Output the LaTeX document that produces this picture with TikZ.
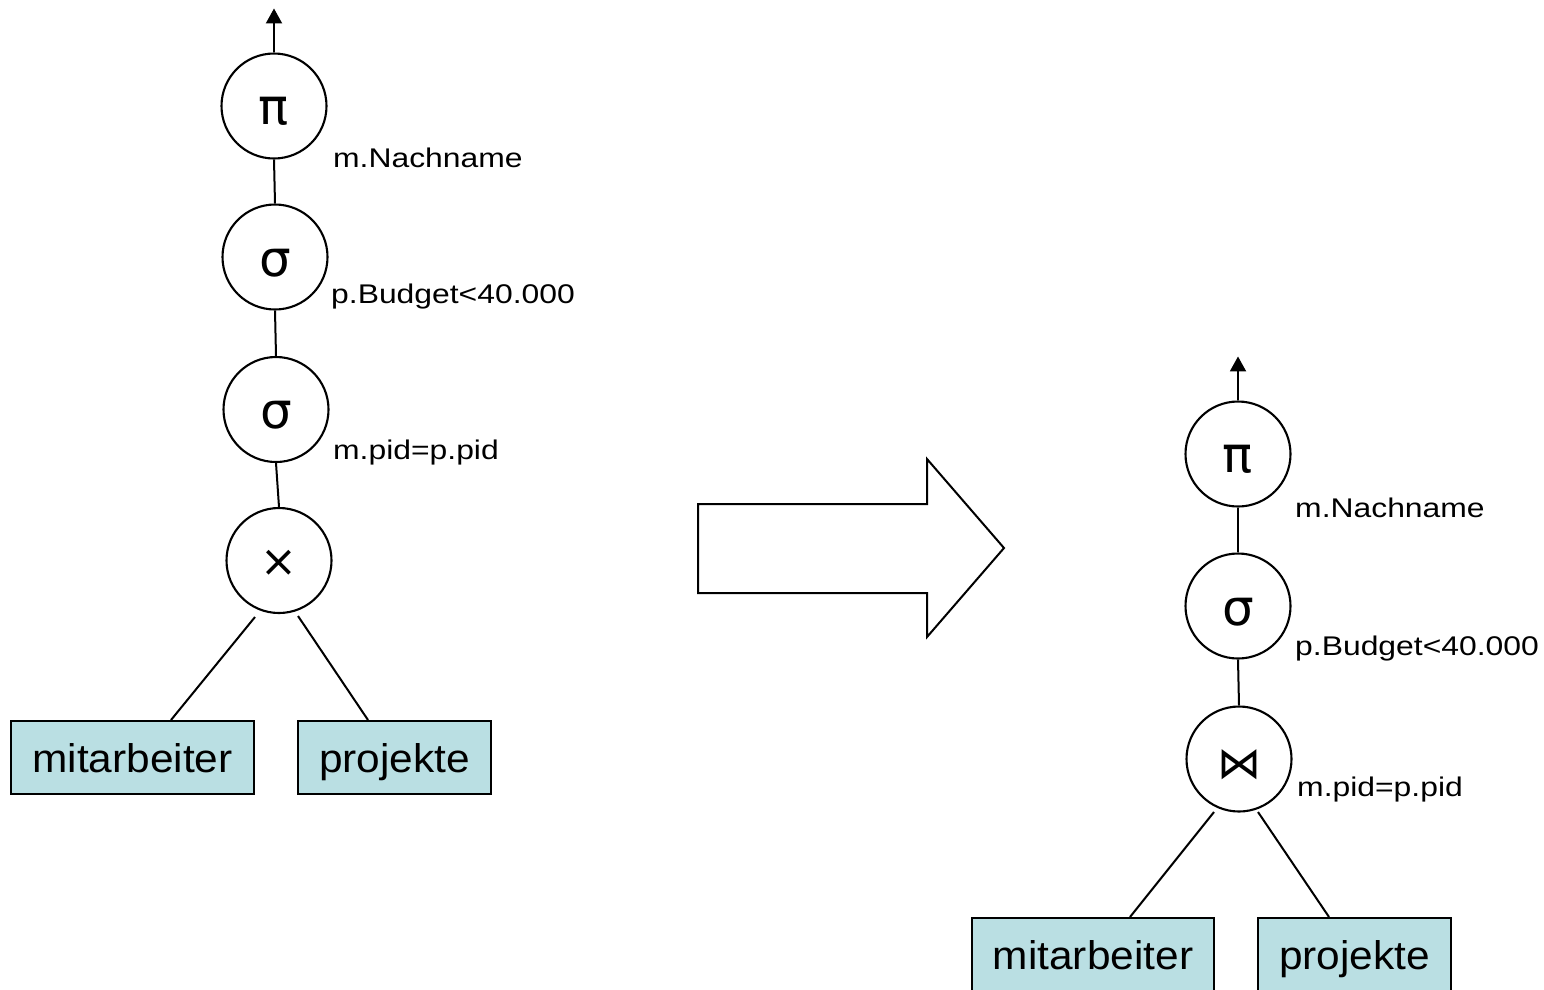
\documentclass[tikz,border=0pt]{standalone}
\usepackage{fontspec}
\setmainfont{Liberation Sans}
\newfontfamily\lblfont[FakeStretch=1.18]{Liberation Sans}
\newfontfamily\opfont{DejaVu Sans}
\newfontfamily\boxfont[FakeStretch=1.06]{Liberation Sans}
\usetikzlibrary{arrows.meta,calc}
\definecolor{relfill}{RGB}{186,223,227}
\begin{document}
\begin{tikzpicture}[x=1pt,y=-1pt,
  opnode/.style={circle,draw,line width=2.1pt,minimum size=105pt,inner sep=0pt},
  opsym/.style={inner sep=0pt,font=\opfont\fontsize{50}{60}\selectfont},
  cond/.style={anchor=base west,inner sep=0pt,font=\lblfont\fontsize{27}{32}\selectfont},
  relbox/.style={rectangle,draw,line width=2pt,fill=relfill,minimum height=73pt,
    inner sep=0pt,text height=29pt,text depth=0pt,font=\boxfont\fontsize{40}{48}\selectfont},
  edge/.style={line width=2pt},
  outarrow/.style={line width=2pt,-{Triangle[width=16pt,length=15pt]}}]
\useasboundingbox (0,0) rectangle (1544,989);

% ---- initial operator tree ----
\node[opnode] (pL) at (274,106) {};
\node[opsym] (pLs) at ([yshift=-5.5pt]pL.center) {π};
\node[opnode] (s1L) at (275,257) {};
\node[opsym] (s1Ls) at ([yshift=-6pt]s1L.center) {σ};
\node[opnode] (s2L) at (276,409.5) {};
\node[opsym] (s2Ls) at ([yshift=-5.5pt]s2L.center) {σ};
\node[opnode] (xL) at (279,560.5) {};
\node[opsym,font=\opfont\fontsize{44}{50}\selectfont] (xLs) at ([yshift=-2.5pt]xL.center) {×};

\node[cond] (cpL) at (333,167) {m.Nachname};
\node[cond] (cs1L) at (331,303) {p.Budget<40.000};
\node[cond] (cs2L) at (333,459) {m.pid=p.pid};

\node[relbox,minimum width=243pt] (mL) at (132.5,757.5) {mitarbeiter};
\node[relbox,minimum width=193pt] (jL) at (394.5,757.5) {projekte};

\coordinate (outL) at ([yshift=44pt]pL.north);
\draw[outarrow] (pL.north) -- (outL);
\draw[edge] (pL.south) -- (s1L.north);
\draw[edge] (s1L.south) -- (s2L.north);
\draw[edge] (s2L.south) -- (xL.north);
\draw[edge] ($(xL.center)+(-24,56.5)$) -- ([xshift=38.5pt]mL.north);
\draw[edge] ($(xL.center)+(19,55.5)$) -- ([xshift=-26.5pt]jL.north);

% ---- transformation arrow ----
\draw[line width=2pt,line join=miter]
  (698,504) -- (927,504) -- (927,459) -- (1004,548) -- (927,637) -- (927,593) -- (698,593) -- cycle;

% ---- optimised operator tree ----
\node[opnode] (pR) at (1238,454) {};
\node[opsym] (pRs) at ([yshift=-5.5pt]pR.center) {π};
\node[opnode] (sR) at (1238,606) {};
\node[opsym] (sRs) at ([yshift=-6pt]sR.center) {σ};
\node[opnode] (jnR) at (1239,759) {};
\node[opsym,font=\opfont\fontsize{44}{50}\selectfont] (jnRs) at ([yshift=-5.5pt]jnR.center) {⋈};

\node[cond] (cpR) at (1295,517) {m.Nachname};
\node[cond] (csR) at (1295,655) {p.Budget<40.000};
\node[cond] (cjR) at (1297,796) {m.pid=p.pid};

\node[relbox,minimum width=242pt] (mR) at (1093,954.5) {mitarbeiter};
\node[relbox,minimum width=193pt] (jR) at (1354.5,954.5) {projekte};

\coordinate (outR) at ([yshift=44pt]pR.north);
\draw[outarrow] (pR.north) -- (outR);
\draw[edge] (pR.south) -- (sR.north);
\draw[edge] (sR.south) -- (jnR.north);
\draw[edge] ($(jnR.center)+(-25,53)$) -- ([xshift=37pt]mR.north);
\draw[edge] ($(jnR.center)+(19,53)$) -- ([xshift=-25.5pt]jR.north);
\end{tikzpicture}
\end{document}
